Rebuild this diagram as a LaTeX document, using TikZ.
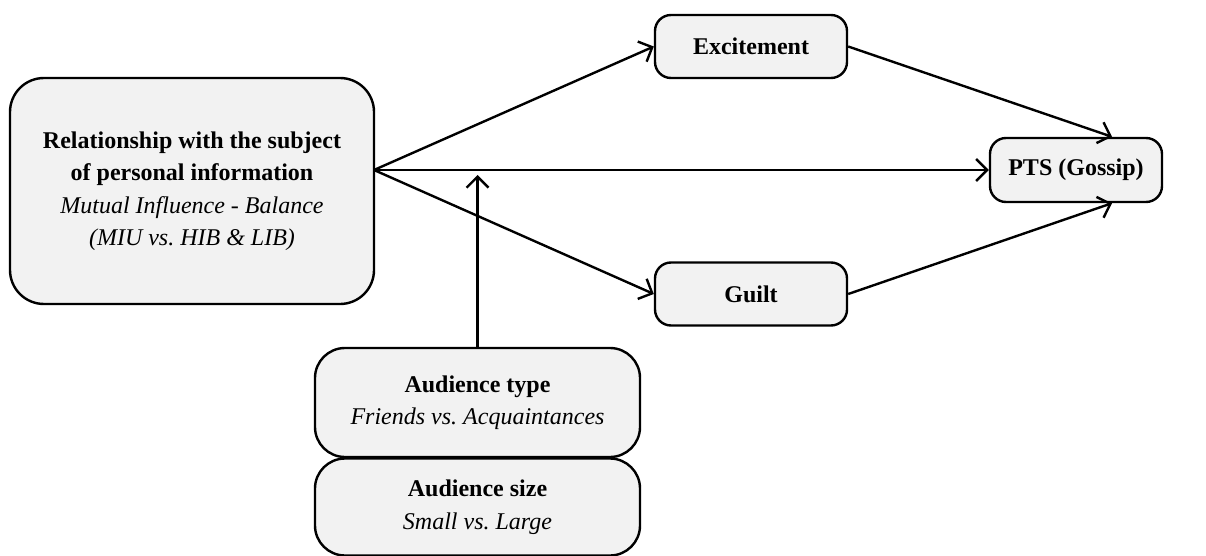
\documentclass[tikz,border=0pt]{standalone}
\usepackage{fontspec}
\setmainfont{Liberation Serif}
\usetikzlibrary{arrows.meta}
\frenchspacing
\begin{document}
\begin{tikzpicture}[x=1pt,y=-1pt,
  box/.style={draw=black, line width=2.4pt, fill=gray!10, align=center,
    inner sep=0pt, font=\fontsize{24}{32.5}\selectfont},
  link/.style={line width=2.4pt, -{Straight Barb[length=11pt,width=22pt,line width=2.4pt]}}]
\useasboundingbox (0,0) rectangle (1206,556);
% factor boxes
\node[box, rounded corners=34pt, minimum width=364pt, minimum height=226pt] (rel) at (192,191)
  {\textbf{Relationship with the subject}\\ \textbf{of personal information}\\
   \textit{Mutual Influence - Balance}\\ \textit{(MIU vs. HIB \& LIB)}};
\node[box, rounded corners=16pt, minimum width=192pt, minimum height=63pt] (exc) at (751,46.5)
  {\textbf{Excitement}};
\node[box, rounded corners=16pt, minimum width=192pt, minimum height=63pt] (gui) at (751,294)
  {\textbf{Guilt}};
\node[box, rounded corners=16pt, minimum width=172pt, minimum height=64pt] (pts) at (1076,170)
  {\textbf{PTS (Gossip)}};
\node[box, rounded corners=30pt, minimum width=325pt, minimum height=109pt] (atype) at (477.5,402.5)
  {\textbf{Audience type}\\ \textit{Friends vs. Acquaintances}};
\node[box, rounded corners=30pt, minimum width=325pt, minimum height=97pt] (asize) at (477.5,507)
  {\textbf{Audience size}\\ \textit{Small vs. Large}};
% connectors
\coordinate (src) at (374,170);
\coordinate (mod) at (477.5,175);
\draw[link] (src) -- (exc.west);
\draw[link] (src) -- (pts.west);
\draw[link] (src) -- (gui.west);
\draw[link] (atype.north) -- (mod);
\draw[link] (exc.east) -- ([xshift=36pt]pts.north);
\draw[link] (gui.east) -- ([xshift=36pt]pts.south);
\end{tikzpicture}
\end{document}
